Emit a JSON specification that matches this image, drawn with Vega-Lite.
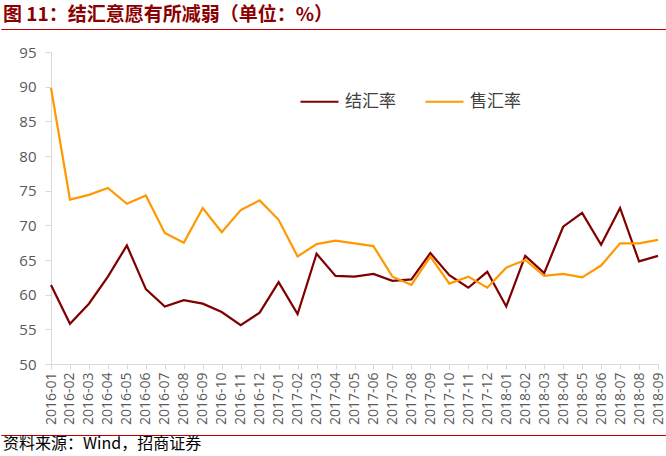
{
  "$schema": "https://vega.github.io/schema/vega-lite/v6.json",
  "padding": {"top": 5, "left": 0, "right": 0, "bottom": 0},
  "background": "white",
  "config": {"view": {"stroke": null}, "font": "Open Sans"},
  "resolve": {"legend": {"color": "independent"}},
  "align": "none",
  "vconcat": [
    {
      "align": "none",
      "resolve": {"legend": {"color": "independent"}},
      "vconcat": [
        {
          "title": {"text": "图 11：结汇意愿有所减弱（单位：%）", "anchor": "start", "frame": "group", "font": "Noto Sans CJK SC", "fontSize": 19, "fontWeight": "bold", "color": "#8B0000", "offset": 4, "dx": 2},
          "width": 666,
          "height": 0.01,
          "view": {"stroke": "#C00000", "strokeWidth": 1},
          "data": {"values": []},
          "mark": "rule",
          "encoding": {}
        },
        {
          "width": 666,
          "height": 312,
          "data": {"values": [
            {"m": "2016-01", "s": "结汇率", "v": 61.4}, {"m": "2016-02", "s": "结汇率", "v": 55.8}, {"m": "2016-03", "s": "结汇率", "v": 58.7}, {"m": "2016-04", "s": "结汇率", "v": 62.6}, {"m": "2016-05", "s": "结汇率", "v": 67.1}, {"m": "2016-06", "s": "结汇率", "v": 60.8}, {"m": "2016-07", "s": "结汇率", "v": 58.3}, {"m": "2016-08", "s": "结汇率", "v": 59.2}, {"m": "2016-09", "s": "结汇率", "v": 58.7}, {"m": "2016-10", "s": "结汇率", "v": 57.5}, {"m": "2016-11", "s": "结汇率", "v": 55.6}, {"m": "2016-12", "s": "结汇率", "v": 57.4},
            {"m": "2017-01", "s": "结汇率", "v": 61.8}, {"m": "2017-02", "s": "结汇率", "v": 57.2}, {"m": "2017-03", "s": "结汇率", "v": 65.9}, {"m": "2017-04", "s": "结汇率", "v": 62.7}, {"m": "2017-05", "s": "结汇率", "v": 62.6}, {"m": "2017-06", "s": "结汇率", "v": 63.0}, {"m": "2017-07", "s": "结汇率", "v": 62.0}, {"m": "2017-08", "s": "结汇率", "v": 62.2}, {"m": "2017-09", "s": "结汇率", "v": 66.0}, {"m": "2017-10", "s": "结汇率", "v": 62.8}, {"m": "2017-11", "s": "结汇率", "v": 61.0}, {"m": "2017-12", "s": "结汇率", "v": 63.3},
            {"m": "2018-01", "s": "结汇率", "v": 58.3}, {"m": "2018-02", "s": "结汇率", "v": 65.6}, {"m": "2018-03", "s": "结汇率", "v": 63.1}, {"m": "2018-04", "s": "结汇率", "v": 69.8}, {"m": "2018-05", "s": "结汇率", "v": 71.8}, {"m": "2018-06", "s": "结汇率", "v": 67.2}, {"m": "2018-07", "s": "结汇率", "v": 72.5}, {"m": "2018-08", "s": "结汇率", "v": 64.8}, {"m": "2018-09", "s": "结汇率", "v": 65.6},
            {"m": "2016-01", "s": "售汇率", "v": 89.8}, {"m": "2016-02", "s": "售汇率", "v": 73.7}, {"m": "2016-03", "s": "售汇率", "v": 74.4}, {"m": "2016-04", "s": "售汇率", "v": 75.4}, {"m": "2016-05", "s": "售汇率", "v": 73.1}, {"m": "2016-06", "s": "售汇率", "v": 74.3}, {"m": "2016-07", "s": "售汇率", "v": 68.9}, {"m": "2016-08", "s": "售汇率", "v": 67.5}, {"m": "2016-09", "s": "售汇率", "v": 72.5}, {"m": "2016-10", "s": "售汇率", "v": 69.0}, {"m": "2016-11", "s": "售汇率", "v": 72.2}, {"m": "2016-12", "s": "售汇率", "v": 73.6},
            {"m": "2017-01", "s": "售汇率", "v": 70.8}, {"m": "2017-02", "s": "售汇率", "v": 65.5}, {"m": "2017-03", "s": "售汇率", "v": 67.3}, {"m": "2017-04", "s": "售汇率", "v": 67.8}, {"m": "2017-05", "s": "售汇率", "v": 67.4}, {"m": "2017-06", "s": "售汇率", "v": 67.0}, {"m": "2017-07", "s": "售汇率", "v": 62.6}, {"m": "2017-08", "s": "售汇率", "v": 61.4}, {"m": "2017-09", "s": "售汇率", "v": 65.5}, {"m": "2017-10", "s": "售汇率", "v": 61.6}, {"m": "2017-11", "s": "售汇率", "v": 62.6}, {"m": "2017-12", "s": "售汇率", "v": 61.0},
            {"m": "2018-01", "s": "售汇率", "v": 63.9}, {"m": "2018-02", "s": "售汇率", "v": 65.0}, {"m": "2018-03", "s": "售汇率", "v": 62.7}, {"m": "2018-04", "s": "售汇率", "v": 63.0}, {"m": "2018-05", "s": "售汇率", "v": 62.5}, {"m": "2018-06", "s": "售汇率", "v": 64.2}, {"m": "2018-07", "s": "售汇率", "v": 67.4}, {"m": "2018-08", "s": "售汇率", "v": 67.4}, {"m": "2018-09", "s": "售汇率", "v": 67.9}
          ]},
          "mark": {"type": "line", "strokeWidth": 2.2},
          "encoding": {
            "x": {"field": "m", "type": "ordinal", "sort": null, "scale": {"padding": 0, "range": [50, 657]},
              "axis": {"title": null, "labelAngle": -90, "labelFont": "Open Sans", "labelFontSize": 14, "labelColor": "#595959", "domainColor": "#d9d9d9", "tickColor": "#d9d9d9", "tickSize": 5, "labelPadding": 3, "grid": false}},
            "y": {"field": "v", "type": "quantitative", "scale": {"domain": [50, 95], "nice": false, "zero": false},
              "axis": {"title": null, "offset": -50, "values": [50, 55, 60, 65, 70, 75, 80, 85, 90, 95], "labelFont": "Open Sans", "labelFontSize": 15, "labelColor": "#595959", "domainColor": "#d9d9d9", "tickColor": "#d9d9d9", "tickSize": 6, "labelPadding": 9, "grid": false, "minExtent": 0}},
            "color": {"field": "s", "type": "nominal", "scale": {"domain": ["结汇率", "售汇率"], "range": ["#800000", "#FF9900"]},
              "legend": {"title": null, "orient": "none", "legendX": 298, "legendY": 29, "direction": "horizontal", "symbolType": "stroke", "symbolSize": 1444, "symbolStrokeWidth": 2.2, "labelFont": "Noto Sans CJK SC", "labelFontSize": 17, "labelColor": "#404040", "labelOffset": 5, "columnPadding": 25, "padding": 0}}
          }
        }
      ],
      "spacing": 15
    },
    {
      "width": 666,
      "height": 0.01,
      "view": {"stroke": "#C00000", "strokeWidth": 1},
      "data": {"values": []},
      "mark": "rule",
      "encoding": {},
      "title": {"text": "资料来源：Wind，招商证券", "orient": "bottom", "anchor": "start", "frame": "group", "font": "Noto Sans CJK SC", "fontSize": 16, "fontWeight": "normal", "color": "#000000", "offset": 1, "dx": 2}
    }
  ],
  "spacing": 9
}
